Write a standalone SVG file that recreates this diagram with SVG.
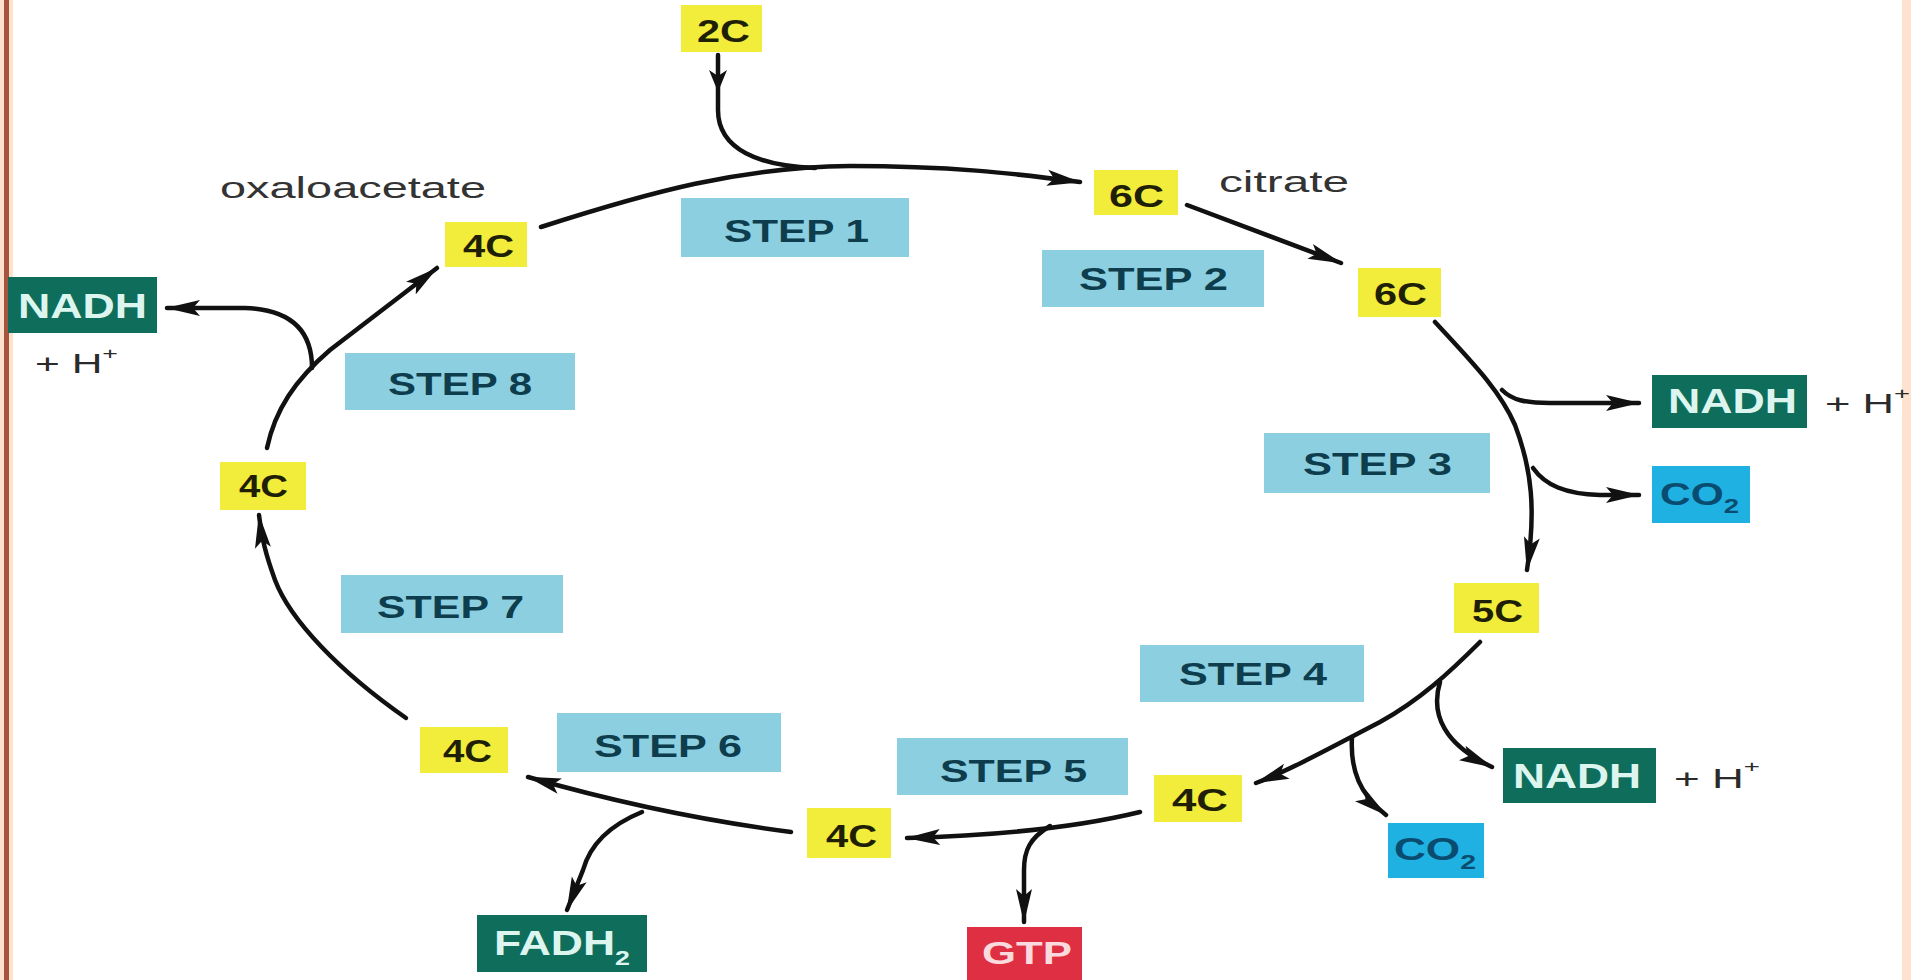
<svg xmlns="http://www.w3.org/2000/svg" width="1911" height="980" viewBox="0 0 1911 980">
<style>
.bg{fill:#ffffff}
.c{fill:#f2ec3a}
.ct{font-family:"Liberation Sans",Arial,sans-serif;font-weight:bold;font-size:32px;fill:#1f1f05}
.s{fill:#8bcfe1}
.st{font-family:"Liberation Sans",Arial,sans-serif;font-weight:bold;font-size:32px;fill:#0e3d4d}
.n{fill:#0f6d5c}
.nt{font-family:"Liberation Sans",Arial,sans-serif;font-weight:bold;font-size:35px;fill:#dcf6ef}
.co{fill:#1fb1e2}
.cot{font-family:"Liberation Sans",Arial,sans-serif;font-weight:bold;font-size:31px;fill:#0a4c70}
.g{fill:#de3042}
.gt{font-family:"Liberation Sans",Arial,sans-serif;font-weight:bold;font-size:31px;fill:#fbdade}
.h{font-family:"Liberation Sans",Arial,sans-serif;font-size:27px;fill:#2b2b2b}
.lbl{font-family:"Liberation Sans",Arial,sans-serif;font-size:29px;fill:#333333}
.ln{fill:none;stroke:#111111;stroke-width:4.5;stroke-linecap:round}
</style>
<defs>
<marker id="ah" markerUnits="userSpaceOnUse" markerWidth="34" markerHeight="18" viewBox="0 0 34 18" refX="33" refY="9" orient="auto">
<path d="M0,1 L34,9 L0,17 L7,9 Z" fill="#111111"/>
</marker>
</defs>
<rect class="bg" x="0" y="0" width="1911" height="980"/>
<rect x="0" y="0" width="13" height="980" fill="#fde3cd"/>
<rect x="4" y="0" width="5" height="980" fill="#a8553f"/>
<rect x="1902" y="0" width="9" height="980" fill="#fde3cd"/>

<g id="connectors">
<path class="ln" d="M718,55 L718,110 C718,150 760,166 815,168"/>
<path d="M718,92 L709,70 L718,76 L727,70 Z" fill="#111111"/>
<path class="ln" marker-end="url(#ah)" d="M541,227 C650,192 740,167 850,166 C950,166 1010,173 1080,182"/>
<path class="ln" marker-end="url(#ah)" d="M1187,205 L1341,263"/>
<path class="ln" marker-end="url(#ah)" d="M1435,322 C1470,360 1500,390 1515,425 C1532,470 1536,510 1527,570"/>
<path class="ln" marker-end="url(#ah)" d="M1502,390 C1512,400 1525,403 1550,403 L1639,403"/>
<path class="ln" marker-end="url(#ah)" d="M1533,468 C1545,485 1565,494 1600,495 L1639,495"/>
<path class="ln" marker-end="url(#ah)" d="M1480,642 C1450,672 1420,700 1380,722 C1330,748 1290,770 1256,783"/>
<path class="ln" marker-end="url(#ah)" d="M1440,682 C1430,715 1445,745 1492,767"/>
<path class="ln" marker-end="url(#ah)" d="M1352,737 C1350,770 1360,795 1386,815"/>
<path class="ln" marker-end="url(#ah)" d="M1140,812 Q1050,834 907,838"/>
<path class="ln" marker-end="url(#ah)" d="M1050,826 C1030,838 1024,850 1024,870 L1024,922"/>
<path class="ln" marker-end="url(#ah)" d="M791,832 Q660,815 528,777"/>
<path class="ln" marker-end="url(#ah)" d="M642,812 C610,825 590,845 583,870 L567,910"/>
<path class="ln" marker-end="url(#ah)" d="M406,718 C340,672 290,620 275,580 C266,555 262,540 259,515"/>
<path class="ln" marker-end="url(#ah)" d="M267,448 C275,410 295,380 330,350 L437,268"/>
<path class="ln" marker-end="url(#ah)" d="M312,368 C312,340 300,310 245,308 L167,308"/>
</g>

<g id="label-oxaloacetate"><text class="lbl" x="220" y="198" textLength="266" lengthAdjust="spacingAndGlyphs">oxaloacetate</text></g>
<g id="label-citrate"><text class="lbl" x="1219" y="192" textLength="130" lengthAdjust="spacingAndGlyphs">citrate</text></g>

<g id="c2"><rect class="c" x="681" y="5" width="81" height="47"/><text class="ct" x="697" y="42" textLength="53" lengthAdjust="spacingAndGlyphs">2C</text></g>
<g id="c6-citrate"><rect class="c" x="1094" y="170" width="84" height="45"/><text class="ct" x="1109" y="207" textLength="55" lengthAdjust="spacingAndGlyphs">6C</text></g>
<g id="c6"><rect class="c" x="1358" y="268" width="83" height="49"/><text class="ct" x="1374" y="305" textLength="53" lengthAdjust="spacingAndGlyphs">6C</text></g>
<g id="c5"><rect class="c" x="1454" y="583" width="85" height="50"/><text class="ct" x="1472" y="622" textLength="51" lengthAdjust="spacingAndGlyphs">5C</text></g>
<g id="c4-step4"><rect class="c" x="1154" y="775" width="88" height="47"/><text class="ct" x="1172" y="811" textLength="56" lengthAdjust="spacingAndGlyphs">4C</text></g>
<g id="c4-step5"><rect class="c" x="807" y="808" width="84" height="50"/><text class="ct" x="826" y="847" textLength="51" lengthAdjust="spacingAndGlyphs">4C</text></g>
<g id="c4-step6"><rect class="c" x="420" y="727" width="88" height="46"/><text class="ct" x="443" y="762" textLength="49" lengthAdjust="spacingAndGlyphs">4C</text></g>
<g id="c4-step7"><rect class="c" x="220" y="462" width="86" height="48"/><text class="ct" x="239" y="497" textLength="49" lengthAdjust="spacingAndGlyphs">4C</text></g>
<g id="c4-oxaloacetate"><rect class="c" x="445" y="222" width="82" height="45"/><text class="ct" x="463" y="257" textLength="51" lengthAdjust="spacingAndGlyphs">4C</text></g>

<g id="step1"><rect class="s" x="681" y="198" width="228" height="59"/><text class="st" x="724" y="242" textLength="145" lengthAdjust="spacingAndGlyphs">STEP 1</text></g>
<g id="step2"><rect class="s" x="1042" y="250" width="222" height="57"/><text class="st" x="1079" y="290" textLength="149" lengthAdjust="spacingAndGlyphs">STEP 2</text></g>
<g id="step3"><rect class="s" x="1264" y="433" width="226" height="60"/><text class="st" x="1303" y="475" textLength="149" lengthAdjust="spacingAndGlyphs">STEP 3</text></g>
<g id="step4"><rect class="s" x="1140" y="645" width="224" height="57"/><text class="st" x="1179" y="685" textLength="148" lengthAdjust="spacingAndGlyphs">STEP 4</text></g>
<g id="step5"><rect class="s" x="897" y="738" width="231" height="57"/><text class="st" x="940" y="782" textLength="147" lengthAdjust="spacingAndGlyphs">STEP 5</text></g>
<g id="step6"><rect class="s" x="557" y="713" width="224" height="59"/><text class="st" x="594" y="757" textLength="148" lengthAdjust="spacingAndGlyphs">STEP 6</text></g>
<g id="step7"><rect class="s" x="341" y="575" width="222" height="58"/><text class="st" x="377" y="618" textLength="147" lengthAdjust="spacingAndGlyphs">STEP 7</text></g>
<g id="step8"><rect class="s" x="345" y="353" width="230" height="57"/><text class="st" x="388" y="395" textLength="144" lengthAdjust="spacingAndGlyphs">STEP 8</text></g>

<g id="nadh-left"><rect class="n" x="8" y="277" width="149" height="56"/><text class="nt" x="18" y="318" textLength="129" lengthAdjust="spacingAndGlyphs">NADH</text><text class="h" x="35" y="373" textLength="83" lengthAdjust="spacingAndGlyphs">+ H<tspan dy="-14" font-size="17">+</tspan></text></g>
<g id="nadh-step3"><rect class="n" x="1652" y="375" width="155" height="53"/><text class="nt" x="1668" y="413" textLength="129" lengthAdjust="spacingAndGlyphs">NADH</text><text class="h" x="1825" y="413" textLength="85" lengthAdjust="spacingAndGlyphs">+ H<tspan dy="-14" font-size="17">+</tspan></text></g>
<g id="nadh-step4"><rect class="n" x="1503" y="748" width="153" height="55"/><text class="nt" x="1513" y="788" textLength="128" lengthAdjust="spacingAndGlyphs">NADH</text><text class="h" x="1674" y="788" textLength="86" lengthAdjust="spacingAndGlyphs">+ H<tspan dy="-16" font-size="17">+</tspan></text></g>

<g id="co2-step3"><rect class="co" x="1652" y="466" width="98" height="57"/><text class="cot" x="1660" y="505" textLength="79" lengthAdjust="spacingAndGlyphs">CO<tspan dy="8" font-size="20">2</tspan></text></g>
<g id="co2-step4"><rect class="co" x="1388" y="823" width="96" height="55"/><text class="cot" x="1394" y="860" textLength="82" lengthAdjust="spacingAndGlyphs">CO<tspan dy="9" font-size="20">2</tspan></text></g>

<g id="fadh2"><rect class="n" x="477" y="915" width="170" height="57"/><text class="nt" x="494" y="955" textLength="136" lengthAdjust="spacingAndGlyphs">FADH<tspan dy="10" font-size="21">2</tspan></text></g>
<g id="gtp"><rect class="g" x="967" y="927" width="115" height="53"/><text class="gt" x="982" y="964" textLength="90" lengthAdjust="spacingAndGlyphs">GTP</text></g>
</svg>
